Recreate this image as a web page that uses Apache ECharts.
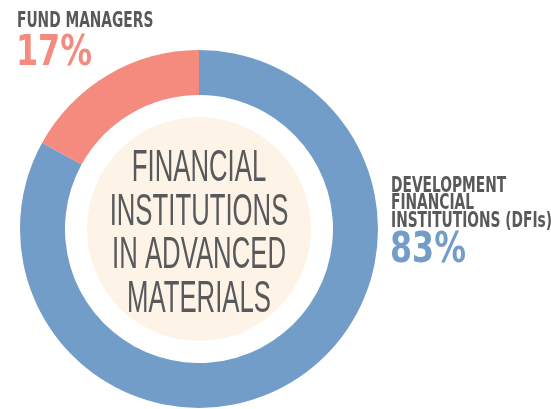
<!DOCTYPE html>
<html>
<head>
<meta charset="utf-8">
<script src="https://cdn.jsdelivr.net/npm/echarts@6/dist/echarts.min.js"></script>
<style>
  html, body { margin: 0; padding: 0; background: #ffffff; }
  #chart { width: 551px; height: 409px; }
</style>
</head>
<body>
<div id="chart"></div>
<script>
// Share of financial institutions investing in advanced materials
const categories = ['DEVELOPMENT\nFINANCIAL\nINSTITUTIONS (DFIs)', 'FUND MANAGERS'];
const shares = [83, 17];
const sliceColors = ['#739dc9', '#f48b7e'];
const centerTitle = ['FINANCIAL', 'INSTITUTIONS', 'IN ADVANCED', 'MATERIALS'];

const chart = echarts.init(document.getElementById('chart'), null, { renderer: 'canvas' });

const cx = 199, cy = 229;
const grey = '#58595b';
const boldFont = 'DejaVu Sans Condensed, Liberation Sans, sans-serif';
const lightFont = 'Liberation Sans, DejaVu Sans, sans-serif';

// Category name in condensed grey caps, with its percentage underneath
function labelBlock(name, value, color, x, y, lineH) {
  const lines = name.split('\n');
  const items = lines.map((t, i) => ({
    type: 'text', x: x, y: y + i * lineH, scaleX: 0.73, z: 100,
    style: { text: t, fill: grey, font: 'bold 21px ' + boldFont, textAlign: 'left', textVerticalAlign: 'top' }
  }));
  items.push({
    type: 'text', x: x - 1, y: y + lines.length * lineH + 2, scaleX: 0.84, z: 100,
    style: { text: value + '%', fill: color, font: 'bold 42px ' + boldFont, textAlign: 'left', textVerticalAlign: 'top' }
  });
  return items;
}

const graphics = []
  .concat(labelBlock(categories[1], shares[1], sliceColors[1], 17, 11, 20))
  .concat(labelBlock(categories[0], shares[0], sliceColors[0], 391, 176, 17.5));

centerTitle.forEach((t, i) => {
  graphics.push({
    type: 'text', x: cx, y: 147 + i * 43.5, scaleX: 0.585, z: 100,
    style: { text: t, fill: grey, font: '44px ' + lightFont, textAlign: 'center', textVerticalAlign: 'top' }
  });
});

chart.setOption({
  animation: false,
  series: [
    {
      type: 'pie',
      silent: true,
      center: [cx, cy],
      radius: [0, 112],
      label: { show: false },
      labelLine: { show: false },
      itemStyle: { color: '#fdf3e6' },
      data: [{ value: 1, name: 'center' }]
    },
    {
      type: 'pie',
      silent: true,
      center: [cx, cy],
      radius: [134, 179],
      startAngle: 90,
      clockwise: true,
      label: { show: false },
      labelLine: { show: false },
      data: categories.map((c, i) => ({ name: c, value: shares[i], itemStyle: { color: sliceColors[i] } }))
    }
  ],
  graphic: graphics
});
</script>
</body>
</html>
